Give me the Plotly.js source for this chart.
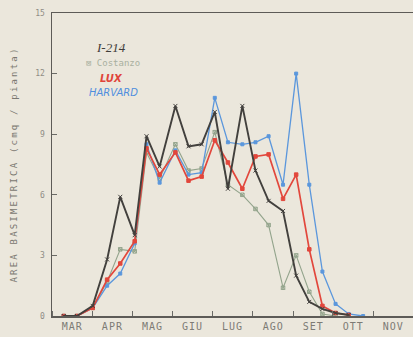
<!DOCTYPE html>
<html>
<head>
<meta charset="utf-8">
<script src="https://cdn.plot.ly/plotly-3.0.1.min.js"></script>
<style>
  html, body { margin: 0; padding: 0; background: #ebe7dc; }
  #chart { width: 413px; height: 337px; }
  .ytitle { letter-spacing: 2.2px; }
  .xtick text { letter-spacing: 1px; }
</style>
</head>
<body>
<div id="chart"></div>
<script>
// Sampling dates (roughly every ten days through the season)
const dates = [
  "1987-03-10", "1987-03-20", "1987-04-01", "1987-04-12", "1987-04-22",
  "1987-05-03", "1987-05-12", "1987-05-22", "1987-06-03", "1987-06-13",
  "1987-06-23", "1987-07-03", "1987-07-13", "1987-07-24", "1987-08-03",
  "1987-08-13", "1987-08-24", "1987-09-03", "1987-09-13", "1987-09-23",
  "1987-10-03", "1987-10-13", "1987-10-24"
];

// Basal area per plant (cmq / pianta) for each clone
const i214     = [0, 0, 0.5, 2.8, 5.9, 4.0, 8.9, 7.4, 10.4, 8.4, 8.5, 10.1, 6.3, 10.4, 7.2, 5.7, 5.2, 2.0, 0.7, 0.35, 0.15, 0.05, null];
const costanzo = [0, 0, 0.4, 1.7, 3.3, 3.2, 8.1, 6.8, 8.5, 7.2, 7.3, 9.1, 6.5, 6.0, 5.3, 4.5, 1.4, 3.0, 1.2, 0.1, 0.0, null, null];
const lux      = [0, 0, 0.4, 1.8, 2.6, 3.7, 8.3, 7.0, 8.1, 6.7, 6.9, 8.7, 7.6, 6.3, 7.9, 8.0, 5.8, 7.0, 3.3, 0.5, 0.15, 0.05, null];
const harvard  = [0, 0, 0.4, 1.5, 2.1, 3.6, 8.5, 6.6, 8.2, 7.0, 7.1, 10.8, 8.6, 8.5, 8.6, 8.9, 6.5, 12.0, 6.5, 2.2, 0.6, 0.1, 0.0];

// Italian short month names for the time axis
const monthsShort = ["GEN", "FEB", "MAR", "APR", "MAG", "GIU", "LUG", "AGO", "SET", "OTT", "NOV", "DIC"];
const monthsLong  = ["Gennaio", "Febbraio", "Marzo", "Aprile", "Maggio", "Giugno", "Luglio", "Agosto", "Settembre", "Ottobre", "Novembre", "Dicembre"];

const yTicks = [0, 3, 6, 9, 12, 15];

Plotly.register({
  moduleType: "locale",
  name: "it-plot",
  dictionary: {},
  format: {
    days: ["Domenica", "Lunedì", "Martedì", "Mercoledì", "Giovedì", "Venerdì", "Sabato"],
    shortDays: ["Dom", "Lun", "Mar", "Mer", "Gio", "Ven", "Sab"],
    months: monthsLong,
    shortMonths: monthsShort
  }
});

function series(name, y, color, width, symbol, msize) {
  return {
    type: "scatter",
    mode: "lines+markers",
    name: name,
    x: dates,
    y: y,
    connectgaps: false,
    line: { color: color, width: width },
    marker: { color: color, size: msize, symbol: symbol, line: { color: color, width: 1 } },
    hoverinfo: "skip"
  };
}

const traces = [
  series("Costanzo", costanzo, "#93a48c", 1.1, "square-x-open", 3.5),
  series("HARVARD", harvard, "#5b97dc", 1.3, "square", 3),
  series("LUX", lux, "#e2473c", 1.7, "square", 3.5),
  series("I-214", i214, "#42403d", 1.9, "x-thin-open", 4)
];

const monoFont = "DejaVu Sans Mono, Liberation Mono, monospace";

const layout = {
  width: 413,
  height: 337,
  margin: { l: 52, r: 0, t: 13, b: 21 },
  paper_bgcolor: "#ebe7dc",
  plot_bgcolor: "#ebe7dc",
  showlegend: false,
  xaxis: {
    type: "date",
    range: ["1987-03-01", "1987-12-01"],
    tick0: "1987-03-01",
    dtick: "M1",
    tickformat: "%b",
    ticklabelmode: "period",
    ticks: "inside",
    ticklen: 5,
    tickwidth: 1,
    tickcolor: "#6a6a66",
    showline: true,
    mirror: true,
    linecolor: "#5d5b57",
    linewidth: 1.5,
    showgrid: false,
    zeroline: false,
    tickfont: { family: monoFont, size: 10, color: "#7d7b75" },
    fixedrange: true
  },
  yaxis: {
    range: [0, 15],
    tickvals: yTicks,
    ticks: "inside",
    ticklen: 5,
    tickwidth: 1,
    tickcolor: "#6a6a66",
    showline: true,
    linecolor: "#5d5b57",
    linewidth: 1.5,
    showgrid: false,
    zeroline: false,
    ticklabelstandoff: 4,
    tickfont: { family: monoFont, size: 8, color: "#8f8c85" },
    title: {
      text: "AREA BASIMETRICA (cmq / pianta)",
      font: { family: monoFont, size: 9, color: "#7a7770" },
      standoff: 16
    },
    fixedrange: true
  },
  annotations: [
    { text: "<i>I-214</i>", x: 111, y: 48, font: { family: "Liberation Serif, serif", size: 13, color: "#3e3c39" } },
    { text: "⊠ Costanzo", x: 113, y: 63, font: { family: monoFont, size: 9, color: "#a9b09f" } },
    { text: "<i><b>LUX</b></i>", x: 111, y: 78, font: { family: "DejaVu Sans, sans-serif", size: 10, color: "#e0443a" } },
    { text: "<i>HARVARD</i>", x: 113, y: 93, font: { family: "DejaVu Sans, sans-serif", size: 10, color: "#4f8ede" } }
  ].map(a => Object.assign({
    xref: "paper", yref: "paper", showarrow: false,
    xanchor: "center", yanchor: "middle"
  }, a, {
    x: (a.x - 52) / (413 - 52),
    y: 1 - (a.y - 13) / (316 - 13)
  }))
};

Plotly.newPlot("chart", traces, layout, { staticPlot: true, locale: "it-plot", displayModeBar: false });
</script>
</body>
</html>
